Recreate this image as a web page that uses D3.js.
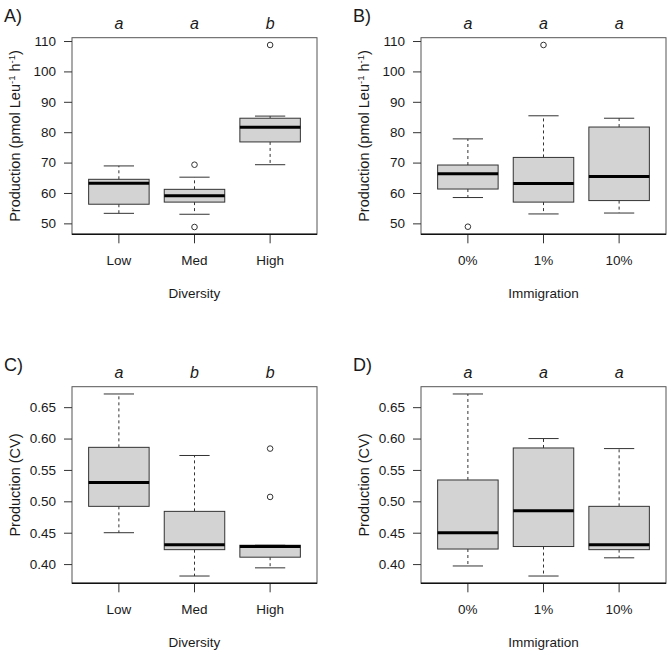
<!DOCTYPE html>
<html>
<head>
<meta charset="utf-8">
<script src="https://cdn.jsdelivr.net/npm/d3@7"></script>
<style>
  html, body { margin: 0; padding: 0; background: #fff; }
  svg text { font-family: "Liberation Sans", Arial, Helvetica, sans-serif; fill: #1a1a1a; }
</style>
</head>
<body>
<svg id="chart" width="672" height="655"></svg>
<script>
// ---------------- data ----------------
const diversityCats = ["Low", "Med", "High"];
const immigrationCats = ["0%", "1%", "10%"];

// box statistics per group: [lower whisker, Q1, median, Q3, upper whisker]
const prodDiversityStats = [
  [53.3, 56.3, 63.2, 64.5, 68.9],
  [53.0, 57.0, 59.1, 61.2, 65.2],
  [69.3, 76.8, 81.6, 84.6, 85.3]
];
const prodDiversityOutliers = [[], [69.3, 48.8], [108.7]];

const prodImmigrationStats = [
  [58.5, 61.3, 66.3, 69.2, 77.8],
  [53.1, 57.0, 63.1, 71.7, 85.4],
  [53.4, 57.5, 65.4, 81.7, 84.6]
];
const prodImmigrationOutliers = [[48.9], [108.7], []];

const cvDiversityStats = [
  [0.450, 0.492, 0.530, 0.586, 0.671],
  [0.381, 0.423, 0.431, 0.484, 0.573],
  [0.394, 0.411, 0.428, 0.430, 0.430]
];
const cvDiversityOutliers = [[], [], [0.584, 0.507]];

const cvImmigrationStats = [
  [0.397, 0.424, 0.450, 0.534, 0.671],
  [0.381, 0.428, 0.485, 0.585, 0.600],
  [0.410, 0.423, 0.431, 0.492, 0.584]
];
const cvImmigrationOutliers = [[], [], []];

const prodTicks = [50, 60, 70, 80, 90, 100, 110];
const cvTicks = [0.40, 0.45, 0.50, 0.55, 0.60, 0.65];

const lettersA = ["a", "a", "b"];
const lettersB = ["a", "a", "a"];
const lettersC = ["a", "b", "b"];
const lettersD = ["a", "a", "a"];

// ---------------- drawing ----------------
const svg = d3.select("#chart");

function rangeDomain(stats, outliers) {
  const all = stats.flat().concat(outliers.flat());
  const lo = d3.min(all), hi = d3.max(all);
  const pad = (hi - lo) * 0.04;
  return [lo - pad, hi + pad];
}

function panel(opt) {
  const g = svg.append("g");
  const L = opt.left, R = opt.left + 245, T = opt.top, B = opt.top + 196.6;
  // R-style: centre positions 1..n on [0.38, n+0.62]
  const xc = d3.scaleLinear().domain([0.38, opt.cats.length + 0.62]).range([L, R]);
  const y = d3.scaleLinear().domain(opt.domain).range([B, T]);
  const unit = xc(2) - xc(1);
  const bw = unit * 0.8;

  opt.stats.forEach((s, i) => {
    const cx = xc(i + 1);
    const [wl, q1, med, q3, wh] = s;
    g.append("line").attr("x1", cx).attr("x2", cx).attr("y1", y(q3)).attr("y2", y(wh))
      .attr("stroke", "#333").attr("stroke-width", 1).attr("stroke-dasharray", "3,3");
    g.append("line").attr("x1", cx).attr("x2", cx).attr("y1", y(q1)).attr("y2", y(wl))
      .attr("stroke", "#333").attr("stroke-width", 1).attr("stroke-dasharray", "3,3");
    [wl, wh].forEach(v => {
      g.append("line").attr("x1", cx - bw / 4).attr("x2", cx + bw / 4)
        .attr("y1", y(v)).attr("y2", y(v)).attr("stroke", "#333").attr("stroke-width", 1);
    });
    g.append("rect").attr("x", cx - bw / 2).attr("width", bw)
      .attr("y", y(q3)).attr("height", Math.max(0.5, y(q1) - y(q3)))
      .attr("fill", "#d3d3d3").attr("stroke", "#333").attr("stroke-width", 1);
    g.append("line").attr("x1", cx - bw / 2).attr("x2", cx + bw / 2)
      .attr("y1", y(med)).attr("y2", y(med)).attr("stroke", "#000").attr("stroke-width", 3);
    opt.outliers[i].forEach(v => {
      g.append("circle").attr("cx", cx).attr("cy", y(v)).attr("r", 2.8)
        .attr("fill", "none").attr("stroke", "#333").attr("stroke-width", 1);
    });
    g.append("text").attr("x", cx).attr("y", T - 8.5).attr("text-anchor", "middle")
      .attr("font-size", 16).attr("font-style", "italic").text(opt.letters[i]);
    g.append("line").attr("x1", cx).attr("x2", cx).attr("y1", B).attr("y2", B + 9)
      .attr("stroke", "#333").attr("stroke-width", 1);
    g.append("text").attr("x", cx).attr("y", B + 31).attr("text-anchor", "middle")
      .attr("font-size", 13.5).text(opt.cats[i]);
  });

  g.append("rect").attr("x", L).attr("y", T).attr("width", R - L).attr("height", B - T)
    .attr("fill", "none").attr("stroke", "#555").attr("stroke-width", 1);
  g.append("line").attr("x1", L).attr("x2", R).attr("y1", B).attr("y2", B)
    .attr("stroke", "#111").attr("stroke-width", 1.6);

  const yAxis = d3.axisLeft(y).tickValues(opt.ticks).tickSize(8).tickPadding(8)
    .tickFormat(opt.fmt);
  const ya = g.append("g").attr("transform", `translate(${L},0)`).call(yAxis);
  ya.select(".domain").remove();
  ya.selectAll(".tick line").attr("stroke", "#333");
  ya.selectAll(".tick text").attr("font-size", 13.5)
    .attr("font-family", '"Liberation Sans", Arial, Helvetica, sans-serif').attr("fill", "#1a1a1a");

  g.append("text").attr("x", (L + R) / 2).attr("y", B + 64).attr("text-anchor", "middle")
    .attr("font-size", 13.5).text(opt.xTitle);

  const yt = g.append("text")
    .attr("transform", `translate(${L - 52},${(T + B) / 2}) rotate(-90)`)
    .attr("text-anchor", "middle").attr("font-size", 14.5);
  opt.yTitle(yt);

  g.append("text").attr("x", L - 68).attr("y", T - 16).attr("font-size", 18).text(opt.label);
}

function prodTitle(t) {
  t.append("tspan").text("Production (pmol Leu");
  t.append("tspan").attr("font-size", 9.5).attr("dy", -5).text("-1");
  t.append("tspan").attr("dy", 5).text(" h");
  t.append("tspan").attr("font-size", 9.5).attr("dy", -5).text("-1");
  t.append("tspan").attr("dy", 5).text(")");
}
function cvTitle(t) { t.text("Production (CV)"); }

const topDomain = rangeDomain(prodDiversityStats.concat(prodImmigrationStats),
                              prodDiversityOutliers.concat(prodImmigrationOutliers));
const botDomain = rangeDomain(cvDiversityStats.concat(cvImmigrationStats),
                              cvDiversityOutliers.concat(cvImmigrationOutliers));

panel({ left: 72, top: 37.7, cats: diversityCats, stats: prodDiversityStats,
  outliers: prodDiversityOutliers, domain: topDomain, ticks: prodTicks, fmt: d3.format("d"),
  letters: lettersA, xTitle: "Diversity", yTitle: prodTitle, label: "A)" });
panel({ left: 421, top: 37.7, cats: immigrationCats, stats: prodImmigrationStats,
  outliers: prodImmigrationOutliers, domain: topDomain, ticks: prodTicks, fmt: d3.format("d"),
  letters: lettersB, xTitle: "Immigration", yTitle: prodTitle, label: "B)" });
panel({ left: 72, top: 386.7, cats: diversityCats, stats: cvDiversityStats,
  outliers: cvDiversityOutliers, domain: botDomain, ticks: cvTicks, fmt: d3.format(".2f"),
  letters: lettersC, xTitle: "Diversity", yTitle: cvTitle, label: "C)" });
panel({ left: 421, top: 386.7, cats: immigrationCats, stats: cvImmigrationStats,
  outliers: cvImmigrationOutliers, domain: botDomain, ticks: cvTicks, fmt: d3.format(".2f"),
  letters: lettersD, xTitle: "Immigration", yTitle: cvTitle, label: "D)" });
</script>
</body>
</html>
